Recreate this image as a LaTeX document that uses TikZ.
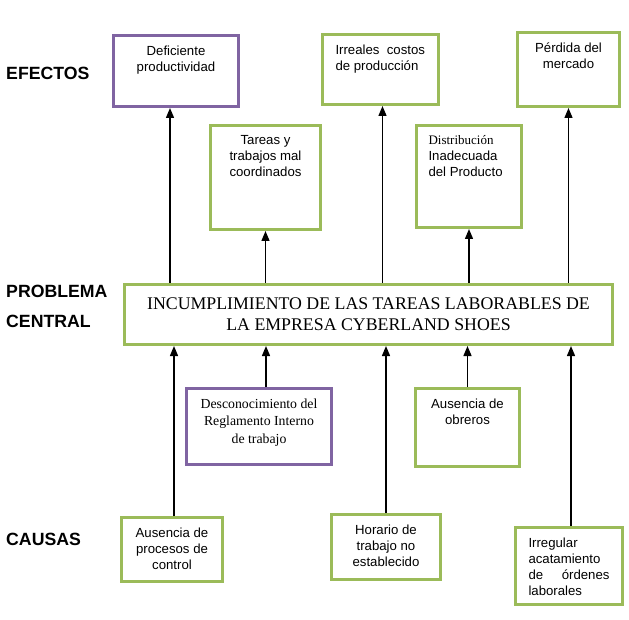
\documentclass[tikz,border=0pt]{standalone}
\usepackage{fontspec}
\setmainfont{Liberation Serif}
\setsansfont{Liberation Sans}
\usepackage{xcolor}
\usepackage{tikz}
\usetikzlibrary{arrows.meta,positioning}
\definecolor{verde}{HTML}{9BBB59}
\definecolor{morado}{HTML}{8064A2}
\newcommand{\caja}[3]{\parbox[t][#2][t]{#1}{#3}}

\begin{document}
\begin{tikzpicture}[x=1pt, y=-1pt, every node/.style={font=\sffamily\fontsize{13.2}{16}\selectfont}, cajabox/.style={draw=verde, line width=3pt, fill=white, anchor=north west, inner xsep=6pt, inner ysep=10pt}, lila/.style={draw=morado}, serifa/.style={font=\rmfamily\fontsize{13.8}{17.5}\selectfont}, etiqueta/.style={anchor=west, align=left, inner sep=0pt, font=\sffamily\bfseries\fontsize{17.7}{30}\selectfont}, arr/.style={-{Triangle[width=8pt,length=10pt]}, line width=1.4pt}]
\useasboundingbox (0,0) rectangle (629,620);
\node[etiqueta] (efectos) at (6,73) {EFECTOS};
\node[etiqueta] (problema) at (6,306) {PROBLEMA\\CENTRAL};
\node[etiqueta] (causas) at (6,539) {CAUSAS};
\node[cajabox, lila] (def) at (112,34) {\caja{113pt}{51pt}{\centering Deficiente\\productividad}};
\node[cajabox, inner xsep=13pt] (irr) at (321,33) {\caja{90pt}{50pt}{Irreales\ \ costos\\de producción}};
\node[cajabox] (perd) at (516,31) {\caja{90pt}{54pt}{\centering Pérdida del\\mercado}};
\node[cajabox] (tar) at (209,124) {\caja{98pt}{84pt}{\centering Tareas y\\trabajos mal\\coordinados}};
\node[cajabox, inner xsep=12pt] (dist) at (415,124) {\caja{81pt}{82pt}{{\rmfamily\fontsize{13}{16}\selectfont Distribución}\\Inadecuada\\del Producto}};
\node[draw=verde, line width=3pt, minimum width=488pt, minimum height=60pt, align=center, font=\rmfamily\fontsize{17.8}{21}\selectfont] (central) at (368.5,314.5) {INCUMPLIMIENTO DE LAS TAREAS LABORABLES DE\\LA EMPRESA CYBERLAND SHOES};
\node[cajabox, lila, serifa] (desc) at (185,387) {\caja{133pt}{56pt}{\centering Desconocimiento del\\Reglamento Interno\\de trabajo}};
\node[cajabox] (obre) at (414,387) {\caja{92pt}{58pt}{\centering Ausencia de\\obreros}};
\node[cajabox] (proc) at (120,516) {\caja{89pt}{44pt}{\centering Ausencia de\\procesos de\\control}};
\node[cajabox] (hor) at (330,513) {\caja{97pt}{45pt}{\centering Horario de\\trabajo no\\establecido}};
\node[cajabox, inner xsep=13pt] (irreg) at (514,526) {\caja{81pt}{57pt}{Irregular\\acatamiento\\de \hfill órdenes\\laborales}};
\draw[arr] ([xshift=-6pt]def.south |- central.north) -- ([xshift=-6pt]def.south);
\draw[arr] (tar.south |- central.north) -- (tar.south);
\draw[arr] ([xshift=2pt]irr.south |- central.north) -- ([xshift=2pt]irr.south);
\draw[arr] (dist.south |- central.north) -- (dist.south);
\draw[arr] (perd.south |- central.north) -- (perd.south);
\draw[arr] ([xshift=2pt]proc.north) -- ([xshift=2pt]proc.north |- central.south);
\draw[arr] ([xshift=7pt]desc.north) -- ([xshift=7pt]desc.north |- central.south);
\draw[arr] (hor.north) -- (hor.north |- central.south);
\draw[arr] (obre.north) -- (obre.north |- central.south);
\draw[arr] ([xshift=2pt]irreg.north) -- ([xshift=2pt]irreg.north |- central.south);
\end{tikzpicture}
\end{document}
